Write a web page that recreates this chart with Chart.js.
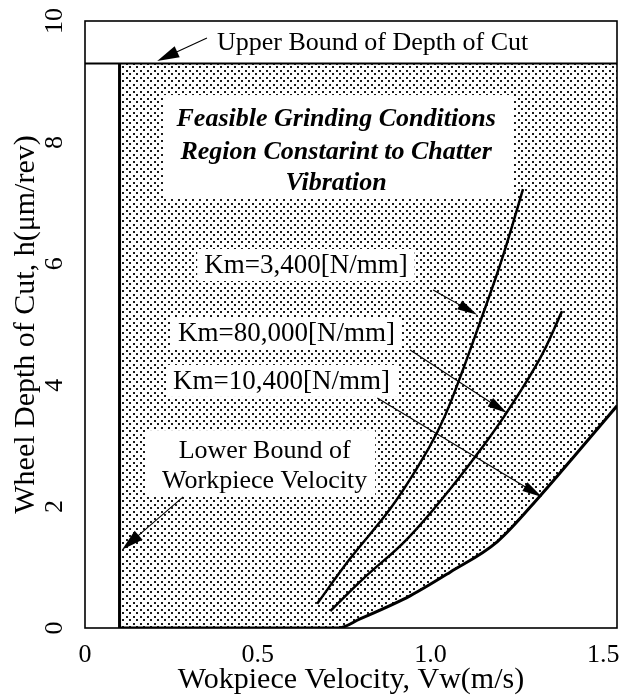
<!DOCTYPE html>
<html><head><meta charset="utf-8">
<script src="https://cdn.jsdelivr.net/npm/chart.js@4.4.1/dist/chart.umd.min.js"></script>
<style>html,body{margin:0;padding:0;background:#fff}#wrap{width:630px;height:695px}</style>
</head><body><div id="wrap"><canvas id="c" width="630" height="695"></canvas></div>
<script>
// ---- data ----
const xTicks = [0, 0.5, 1.0, 1.5];
const xTickLabels = ['0', '0.5', '1.0', '1.5'];
const yTicks = [0, 2, 4, 6, 8, 10];
const yTickLabels = ['0', '2', '4', '6', '8', '10'];
const xRange = [0, 1.54];
const yRange = [0, 10];
const upperBoundDepth = 9.3;       // upper bound of depth of cut
const lowerBoundVelocity = 0.1;    // lower bound of workpiece velocity
// Km = 3,400 N/mm
const km3400X = [0.672, 0.767, 0.883, 0.965, 1.020, 1.062, 1.150, 1.210, 1.268];
const km3400Y = [0.40, 1.14, 1.96, 2.67, 3.23, 3.77, 5.14, 6.13, 7.23];
// Km = 80,000 N/mm
const km80000X = [0.710, 0.805, 0.933, 1.057, 1.153, 1.222, 1.318, 1.381];
const km80000Y = [0.28, 0.81, 1.47, 2.29, 3.00, 3.56, 4.45, 5.22];
// Km = 10,400 N/mm (lower boundary of feasible region)
const km10400X = [0.733, 0.796, 0.941, 1.057, 1.193, 1.318, 1.434, 1.54];
const km10400Y = [0.00, 0.15, 0.53, 0.92, 1.42, 2.18, 2.95, 3.66];

const pts = (xs, ys) => xs.map((v, i) => ({x: v, y: ys[i]}));
const SERIF = "'Liberation Serif', 'Times New Roman', serif";

// dotted pattern for feasible region
const cv = document.getElementById('c');
function makePattern() {
  const t = document.createElement('canvas');
  t.width = 7; t.height = 7;
  const g = t.getContext('2d');
  g.fillStyle = '#fff'; g.fillRect(0, 0, 7, 7);
  g.fillStyle = '#1a1a1a';
  g.fillRect(0, 0, 2, 2);
  g.fillRect(3, 3, 2, 2);
  return cv.getContext('2d').createPattern(t, 'repeat');
}
const dots = makePattern();

const lowerBoundary = [{x: lowerBoundVelocity, y: 0}].concat(pts(km10400X, km10400Y));
const regionTop = [{x: lowerBoundVelocity, y: upperBoundDepth}, {x: xRange[1], y: upperBoundDepth}];

const lineDs = (data, w, extra) => Object.assign({
  data, borderColor: '#000', borderWidth: w, pointRadius: 0, fill: false,
  tension: 0, cubicInterpolationMode: 'monotone', order: 0
}, extra || {});

// ---- annotations (positions in data units) ----
const boxes = [
  {x0: 0.226, x1: 1.24, y0: 7.08, y1: 8.78},
  {x0: 0.174, x1: 0.84, y0: 2.19, y1: 3.26}
];
const texts = [
  {t: 'Upper Bound of Depth of Cut', x: 0.382, y: 9.65, align: 'left', font: '26px ' + SERIF},
  {t: 'Feasible Grinding Conditions', x: 0.727, y: 8.39, align: 'center', font: 'italic bold 26px ' + SERIF},
  {t: 'Region Constarint to Chatter', x: 0.727, y: 7.86, align: 'center', font: 'italic bold 26px ' + SERIF},
  {t: 'Vibration', x: 0.727, y: 7.35, align: 'center', font: 'italic bold 26px ' + SERIF},
  {t: 'Km=3,400[N/mm]', x: 0.345, y: 5.98, align: 'left', font: '27px ' + SERIF, box: true},
  {t: 'Km=80,000[N/mm]', x: 0.269, y: 4.86, align: 'left', font: '27px ' + SERIF, box: true},
  {t: 'Km=10,400[N/mm]', x: 0.255, y: 4.07, align: 'left', font: '27px ' + SERIF, box: true},
  {t: 'Lower Bound of', x: 0.52, y: 2.93, align: 'center', font: '26px ' + SERIF},
  {t: 'Workpiece Velocity', x: 0.52, y: 2.44, align: 'center', font: '26px ' + SERIF}
];
const arrows = [
  {x1: 0.353, y1: 9.72, x2: 0.209, y2: 9.34, head: 22, w: 6},
  {x1: 1.008, y1: 5.57, x2: 1.135, y2: 5.16, head: 20, w: 5},
  {x1: 0.941, y1: 4.58, x2: 1.222, y2: 3.54, head: 20, w: 5},
  {x1: 0.846, y1: 3.79, x2: 1.323, y2: 2.16, head: 20, w: 5},
  {x1: 0.284, y1: 2.16, x2: 0.107, y2: 1.29, head: 22, w: 6}
];

function drawArrow(ctx, x1, y1, x2, y2, head, w) {
  const a = Math.atan2(y2 - y1, x2 - x1), c = Math.cos(a), s = Math.sin(a);
  ctx.lineWidth = 1.1;
  ctx.beginPath(); ctx.moveTo(x1, y1); ctx.lineTo(x2 - head * 0.7 * c, y2 - head * 0.7 * s); ctx.stroke();
  ctx.beginPath();
  ctx.moveTo(x2, y2);
  ctx.lineTo(x2 - head * c + w * s, y2 - head * s - w * c);
  ctx.lineTo(x2 - head * c - w * s, y2 - head * s + w * c);
  ctx.closePath(); ctx.fill();
}

const annot = {
  id: 'annot',
  afterDatasetsDraw(chart) {
    const {ctx, scales: {x, y}} = chart;
    const X = v => x.getPixelForValue(v), Y = v => y.getPixelForValue(v);
    ctx.save();
    ctx.fillStyle = '#fff';
    boxes.forEach(b => ctx.fillRect(X(b.x0), Y(b.y1), X(b.x1) - X(b.x0), Y(b.y0) - Y(b.y1)));
    ctx.textBaseline = 'middle';
    texts.forEach(o => {
      ctx.font = o.font; ctx.textAlign = o.align;
      if (o.box) {
        const w = ctx.measureText(o.t).width;
        ctx.fillStyle = '#fff';
        ctx.fillRect(X(o.x) - 7, Y(o.y) - 16, w + 14, 32);
      }
      ctx.fillStyle = '#000';
      ctx.fillText(o.t, X(o.x), Y(o.y) + 1);
    });
    ctx.fillStyle = '#000'; ctx.strokeStyle = '#000';
    arrows.forEach(a => drawArrow(ctx, X(a.x1), Y(a.y1), X(a.x2), Y(a.y2), a.head, a.w));
    const ca = chart.chartArea;
    ctx.lineWidth = 1.6;
    ctx.strokeRect(ca.left, ca.top, ca.right - ca.left, ca.bottom - ca.top);
    ctx.restore();
  }
};

new Chart(cv, {
  type: 'line',
  data: {
    datasets: [
      lineDs(lowerBoundary, 3),
      lineDs(regionTop, 0, {fill: '-1', backgroundColor: dots, order: 10}),
      lineDs([{x: 0, y: upperBoundDepth}, {x: xRange[1], y: upperBoundDepth}], 2),
      lineDs([{x: lowerBoundVelocity, y: 0}, {x: lowerBoundVelocity, y: upperBoundDepth}], 3),
      lineDs(pts(km3400X, km3400Y), 2.5, {cubicInterpolationMode: 'default', tension: 0.4}),
      lineDs(pts(km80000X, km80000Y), 2.5, {cubicInterpolationMode: 'default', tension: 0.4})
    ]
  },
  options: {
    responsive: false, animation: false,
    layout: {padding: {top: 21, right: 13, left: 0, bottom: 0}},
    plugins: {legend: {display: false}, tooltip: {enabled: false}},
    scales: {
      x: {
        type: 'linear', min: xRange[0], max: xRange[1],
        grid: {display: false}, border: {display: false},
        afterBuildTicks: s => { s.ticks = xTicks.map(v => ({value: v})); },
        afterFit: s => { s.height = 67; s.paddingLeft = 0; s.paddingRight = 0; },
        ticks: {
          color: '#000', padding: 4, maxRotation: 0, autoSkip: false,
          font: {family: SERIF, size: 26},
          callback: v => xTickLabels[xTicks.indexOf(v)]
        },
        title: {display: true, text: 'Wokpiece Velocity, Vw(m/s)', color: '#000',
                font: {family: SERIF, size: 30, lineHeight: 1}, padding: {top: 0, bottom: 0}}
      },
      y: {
        type: 'linear', min: yRange[0], max: yRange[1],
        grid: {display: false}, border: {display: false},
        afterBuildTicks: s => { s.ticks = yTicks.map(v => ({value: v})); },
        afterFit: s => { s.width = 85; s.paddingTop = 0; s.paddingBottom = 0; },
        ticks: {
          color: '#000', padding: 9, minRotation: 90, maxRotation: 90, crossAlign: 'center',
          autoSkip: false, font: {family: SERIF, size: 26},
          callback: v => yTickLabels[yTicks.indexOf(v)]
        },
        title: {display: true, text: 'Wheel Depth of Cut, h(μm/rev)', color: '#000',
                font: {family: SERIF, size: 30, lineHeight: 1.2}, padding: {top: 8, bottom: 0}}
      }
    }
  },
  plugins: [annot]
});
</script></body></html>
